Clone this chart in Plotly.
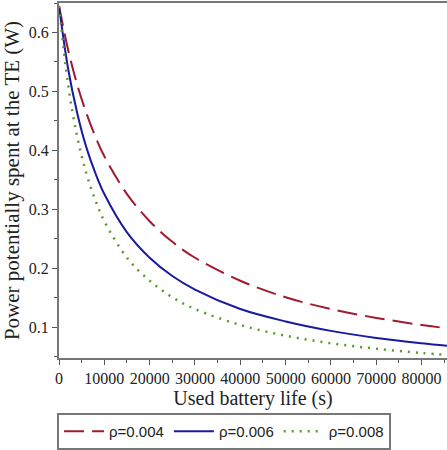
import plotly.graph_objects as go

t = [0, 2000, 4000, 6000, 8000, 10000, 15000, 20000, 25000, 30000,
     40000, 50000, 60000, 70000, 80000, 86000]
p_004 = [0.645, 0.571, 0.512, 0.464, 0.424, 0.390, 0.326, 0.280, 0.245, 0.218,
         0.179, 0.151, 0.131, 0.116, 0.104, 0.098]
p_006 = [0.645, 0.539, 0.464, 0.406, 0.362, 0.326, 0.261, 0.218, 0.187, 0.164,
         0.131, 0.110, 0.094, 0.082, 0.073, 0.0685]
p_008 = [0.645, 0.512, 0.424, 0.362, 0.316, 0.280, 0.218, 0.179, 0.151, 0.131,
         0.104, 0.0858, 0.073, 0.0637, 0.0564, 0.0528]
names = ["ρ=0.004", "ρ=0.006", "ρ=0.008"]
x_ticks = [0, 10000, 20000, 30000, 40000, 50000, 60000, 70000, 80000]
x_labels = ["0", "10000", "20000", "30000", "40000", "50000", "60000", "70000", "80000"]
y_ticks = [0.1, 0.2, 0.3, 0.4, 0.5, 0.6]
y_labels = ["0.1", "0.2", "0.3", "0.4", "0.5", "0.6"]

fig = go.Figure()
fig.add_trace(go.Scatter(x=t, y=p_004, mode="lines", name=names[0],
                         line=dict(color="#a01a30", width=2, dash="20px,8px", shape="spline")))
fig.add_trace(go.Scatter(x=t, y=p_006, mode="lines", name=names[1],
                         line=dict(color="#1a1aa0", width=2, shape="spline")))
fig.add_trace(go.Scatter(x=t, y=p_008, mode="lines", name=names[2],
                         line=dict(color="#5a9a28", width=2.5, dash="2px,6px", shape="spline")))

serif = "Liberation Serif"
fig.update_layout(
    width=447, height=450,
    margin=dict(l=59, r=0, t=3, b=78),
    plot_bgcolor="white", paper_bgcolor="white",
    font=dict(family=serif, size=16, color="#222"),
    showlegend=True,
    legend=dict(orientation="h", x=-0.005, xanchor="left", y=-0.155, yanchor="top",
                bordercolor="#777", borderwidth=2,
                font=dict(family="Liberation Sans", size=15, color="#222"),
                itemwidth=40, tracegroupgap=0),
    xaxis=dict(range=[0, 85600], tickvals=x_ticks, ticktext=x_labels, ticks="outside", ticklen=5,
               tickcolor="#555", showline=True, linecolor="#777", linewidth=2,
               mirror=True, showgrid=False, zeroline=False, automargin=False,
               minor=dict(ticks="outside", ticklen=3, dtick=5000, tickcolor="#555"),
               tickfont=dict(family=serif, size=16),
               title=dict(text="Used battery life (s)", font=dict(family=serif, size=20),
                          standoff=5)),
    yaxis=dict(range=[0.048, 0.65], tickvals=y_ticks, ticktext=y_labels, ticks="outside", ticklen=5,
               tickcolor="#555", showline=True, linecolor="#777", linewidth=2,
               mirror=False, showgrid=False, zeroline=False, automargin=False,
               minor=dict(ticks="outside", ticklen=3, dtick=0.05, tick0=0, tickcolor="#555"),
               tickfont=dict(family=serif, size=16),
               title=dict(text="Power potentially spent at the TE (W)",
                          font=dict(family=serif, size=21), standoff=7)),
)
fig.write_html("out.html", config={"displayModeBar": False},
               post_script="document.body.style.margin='0px';document.body.style.overflow='hidden';")
